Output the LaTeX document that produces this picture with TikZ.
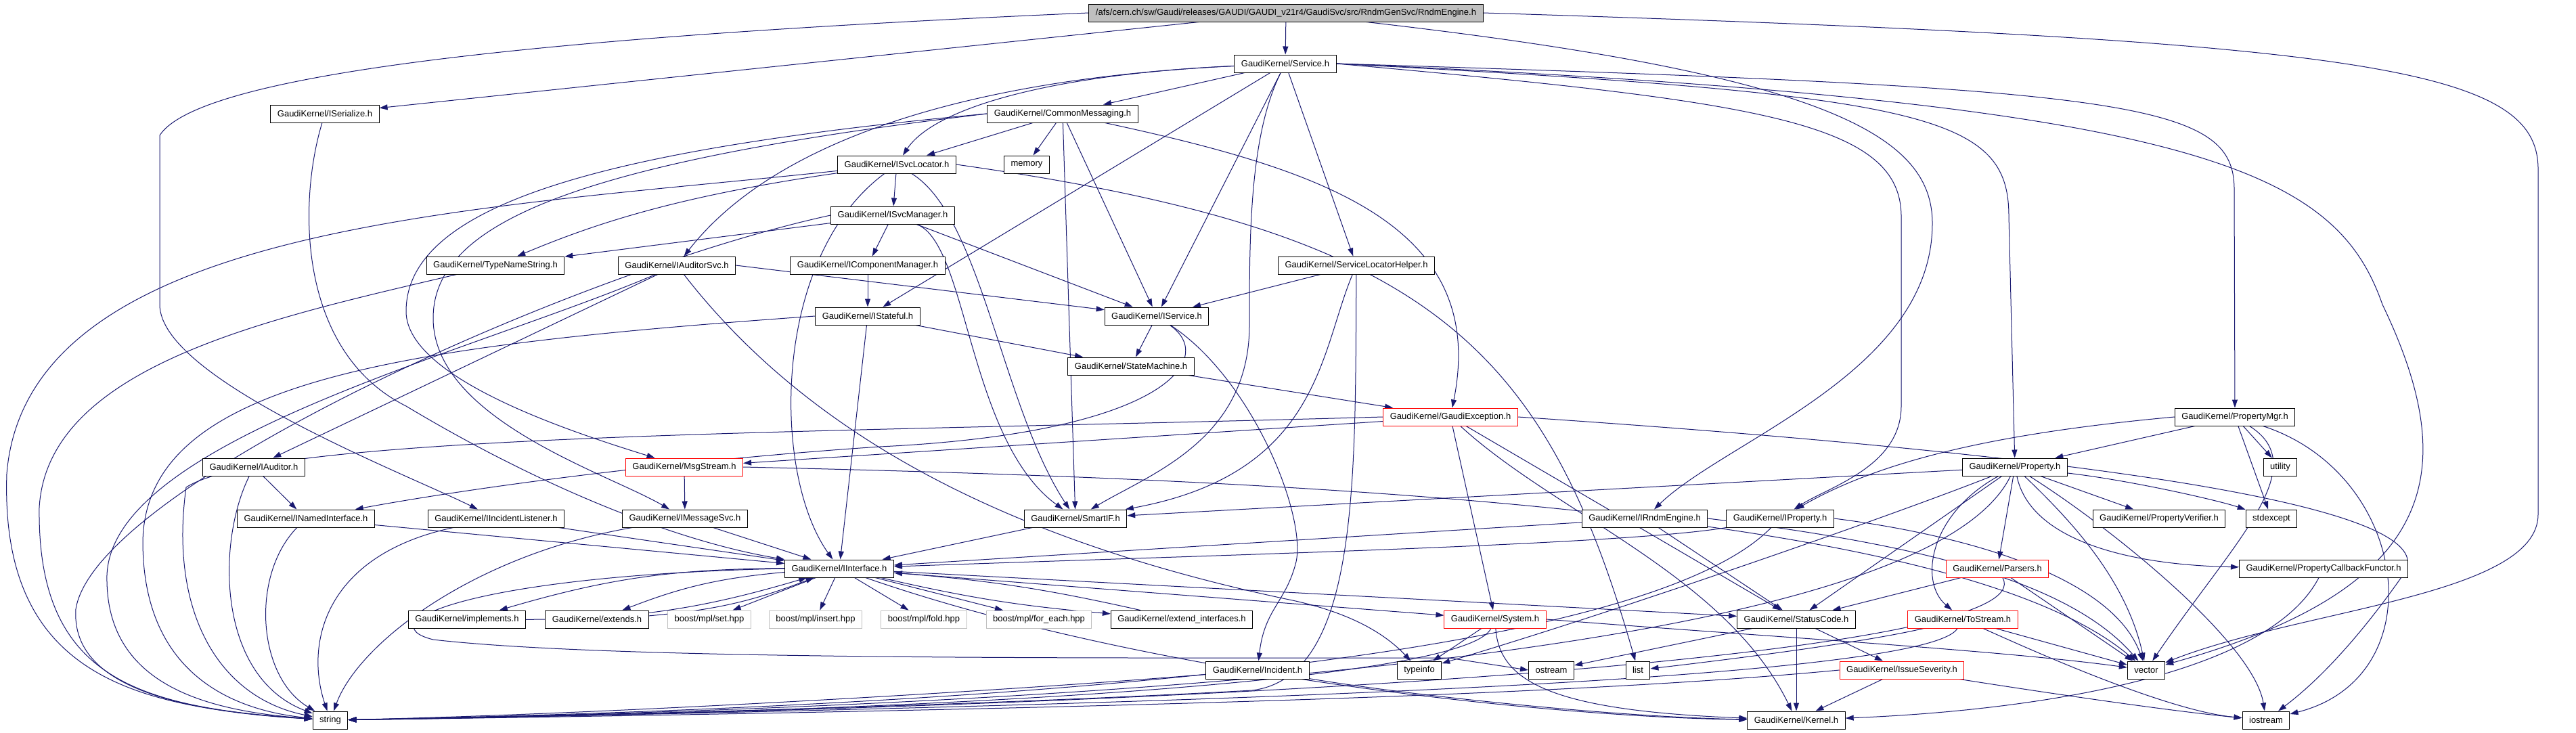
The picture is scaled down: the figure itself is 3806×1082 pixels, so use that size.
\documentclass[tikz,border=0pt]{standalone}
\usepackage{fontspec}
\usetikzlibrary{arrows.meta,backgrounds}
\newfontfamily\graphfont{Liberation Sans}
\definecolor{edgeblue}{HTML}{191970}
\definecolor{boxgrey}{HTML}{BFBFBF}
\tikzset{
  file/.style={draw=black, line width=0.5pt, fill=white, inner xsep=5pt, inner ysep=0pt,
    minimum height=13pt, font=\graphfont\fontsize{6.5pt}{7.5pt}\selectfont},
  redfile/.style={file, draw=red},
  sysfile/.style={file, draw=boxgrey},
  rootfile/.style={file, fill=boxgrey},
  incl/.style={draw=edgeblue, line width=0.5pt, -{Triangle[length=6pt,width=4pt]}}
}
\begin{document}
\begin{tikzpicture}[x=0.5pt, y=-0.5pt]
    \useasboundingbox (0,0) rectangle (3806,1082);

    % Files, row by row
    \node[rootfile] (root) at (1900,19) {/afs/cern.ch/sw/Gaudi/releases/GAUDI/GAUDI\_v21r4/GaudiSvc/src/RndmGenSvc/RndmEngine.h};
    \node[file] (service) at (1899,94) {GaudiKernel/Service.h};
    \node[file] (iserialize) at (480,168) {GaudiKernel/ISerialize.h};
    \node[file] (commonmsg) at (1570,168) {GaudiKernel/CommonMessaging.h};
    \node[file] (isvclocator) at (1325,243) {GaudiKernel/ISvcLocator.h};
    \node[file] (memory) at (1517,243) {memory};
    \node[file] (isvcmanager) at (1319,318) {GaudiKernel/ISvcManager.h};
    \node[file] (typenamestring) at (732,392) {GaudiKernel/TypeNameString.h};
    \node[file] (iauditorsvc) at (1000,392) {GaudiKernel/IAuditorSvc.h};
    \node[file] (icompmanager) at (1282,392) {GaudiKernel/IComponentManager.h};
    \node[file] (servicelochelper) at (2004,392) {GaudiKernel/ServiceLocatorHelper.h};
    \node[file] (istateful) at (1282,467) {GaudiKernel/IStateful.h};
    \node[file] (iservice) at (1709,467) {GaudiKernel/IService.h};
    \node[file] (statemachine) at (1671,541) {GaudiKernel/StateMachine.h};
    \node[redfile] (gaudiexception) at (2143,616) {GaudiKernel/GaudiException.h};
    \node[file] (propertymgr) at (3302,616) {GaudiKernel/PropertyMgr.h};
    \node[file] (iauditor) at (375,690) {GaudiKernel/IAuditor.h};
    \node[redfile] (msgstream) at (1011,690) {GaudiKernel/MsgStream.h};
    \node[file] (property) at (2977,690) {GaudiKernel/Property.h};
    \node[file] (utility) at (3369,690) {utility};
    \node[file] (inamedinterface) at (452,766) {GaudiKernel/INamedInterface.h};
    \node[file] (iincidentlistener) at (733,766) {GaudiKernel/IIncidentListener.h};
    \node[file] (imessagesvc) at (1012,766) {GaudiKernel/IMessageSvc.h};
    \node[file] (smartif) at (1589,766) {GaudiKernel/SmartIF.h};
    \node[file] (irndmengine) at (2430,766) {GaudiKernel/IRndmEngine.h};
    \node[file] (iproperty) at (2630,766) {GaudiKernel/IProperty.h};
    \node[file] (propertyverifier) at (3190,766) {GaudiKernel/PropertyVerifier.h};
    \node[file] (stdexcept) at (3356,766) {stdexcept};
    \node[file] (iinterface) at (1240,840) {GaudiKernel/IInterface.h};
    \node[redfile] (parsers) at (2951,840) {GaudiKernel/Parsers.h};
    \node[file] (propcallback) at (3433,840) {GaudiKernel/PropertyCallbackFunctor.h};
    \node[file] (implements) at (690,915) {GaudiKernel/implements.h};
    \node[file] (extends) at (882,915) {GaudiKernel/extends.h};
    \node[sysfile] (mplset) at (1048,915) {boost/mpl/set.hpp};
    \node[sysfile] (mplinsert) at (1205,915) {boost/mpl/insert.hpp};
    \node[sysfile] (mplfold) at (1365,915) {boost/mpl/fold.hpp};
    \node[sysfile] (mplforeach) at (1535,915) {boost/mpl/for\_each.hpp};
    \node[file] (extendif) at (1746,915) {GaudiKernel/extend\_interfaces.h};
    \node[redfile] (system) at (2209,915) {GaudiKernel/System.h};
    \node[file] (statuscode) at (2654,915) {GaudiKernel/StatusCode.h};
    \node[redfile] (tostream) at (2900,915) {GaudiKernel/ToStream.h};
    \node[file] (incident) at (1858,990) {GaudiKernel/Incident.h};
    \node[file] (typeinfo) at (2097,990) {typeinfo};
    \node[file] (ostream) at (2292,990) {ostream};
    \node[file] (list) at (2420,990) {list};
    \node[redfile] (issueseverity) at (2810,990) {GaudiKernel/IssueSeverity.h};
    \node[file] (vector) at (3171,990) {vector};
    \node[file] (string) at (488,1064) {string};
    \node[file] (kernel) at (2654,1064) {GaudiKernel/Kernel.h};
    \node[file] (iostream) at (3348,1064) {iostream};

    \begin{pgfonlayer}{background}
    \fill[white] (0,0) rectangle (3806,1082);

    % RndmEngine.h
    \draw[incl] (root) -- (service);
    \draw[incl] (root) -- (iserialize);
    \draw[incl] (root.west) .. controls (900,50) and (300,100) .. (236,200) -- (236,450) .. controls (236,560) and (600,700) .. (iincidentlistener);
    \draw[incl] (root) .. controls (2700,110) and (2855,200) .. (2855,330) .. controls (2855,550) and (2550,650) .. (irndmengine);
    \draw[incl] (root.east) .. controls (3500,60) and (3750,100) .. (3750,250) -- (3750,760) .. controls (3750,880) and (3400,900) .. (vector);

    % Service.h
    \draw[incl] (service) -- (commonmsg);
    \draw[incl] (service) .. controls (1550,110) and (1380,160) .. (isvclocator);
    \draw[incl] (service) .. controls (1450,115) and (1150,200) .. (iauditorsvc);
    \draw[incl] (service) -- (istateful);
    \draw[incl] (service) -- (iservice);
    \draw[incl] (service) -- (servicelochelper);
    \draw[incl] (service) .. controls (1846,200) and (1846,350) .. (1846,480) .. controls (1846,650) and (1700,700) .. (smartif);
    \draw[incl] (service.east) .. controls (2600,150) and (2809,180) .. (2809,320) -- (2809,600) .. controls (2809,690) and (2700,720) .. (iproperty);
    \draw[incl] (service.east) .. controls (3150,130) and (3301,150) .. (3301,280) -- (propertymgr);
    \draw[incl] (service.east) .. controls (2850,140) and (2968,170) .. (2968,320) -- (property);
    \draw[incl] (service.east) .. controls (3250,150) and (3450,250) .. (3520,450) .. controls (3640,700) and (3600,870) .. (vector);

    % CommonMessaging.h
    \draw[incl] (commonmsg) -- (isvclocator);
    \draw[incl] (commonmsg) -- (memory);
    \draw[incl] (commonmsg) -- (smartif);
    \draw[incl] (commonmsg) -- (iservice);
    \draw[incl] (commonmsg) .. controls (1950,250) and (2200,330) .. (gaudiexception);
    \draw[incl] (commonmsg.west) .. controls (900,220) and (600,300) .. (600,460) .. controls (600,560) and (850,640) .. (msgstream);
    \draw[incl] (commonmsg.west) .. controls (850,240) and (640,330) .. (640,470) .. controls (640,620) and (900,700) .. (imessagesvc);

    % ISvcLocator.h
    \draw[incl] (isvclocator) -- (isvcmanager);
    \draw[incl] (isvclocator) .. controls (1000,290) and (880,330) .. (typenamestring);
    \draw[incl] (isvclocator) .. controls (700,310) and (40,330) .. (10,700) .. controls (0,1000) and (200,1045) .. (string);
    \draw[incl] (isvclocator) .. controls (1140,380) and (1140,700) .. (iinterface);
    \draw[incl] (isvclocator) .. controls (1450,320) and (1480,600) .. (smartif);
    \draw[incl] (isvclocator.east) .. controls (2100,340) and (2280,500) .. (list);

    % ISvcManager.h
    \draw[incl] (isvcmanager) -- (icompmanager);
    \draw[incl] (isvcmanager) -- (typenamestring);
    \draw[incl] (isvcmanager.west) .. controls (850,400) and (140,720) .. (112,900) .. controls (105,1010) and (250,1050) .. (string);
    \draw[incl] (isvcmanager) -- (iservice);
    \draw[incl] (isvcmanager) .. controls (1430,360) and (1430,650) .. (smartif);

    % TypeNameString.h, IAuditorSvc.h, IComponentManager.h
    \draw[incl] (typenamestring) .. controls (400,470) and (70,540) .. (58,750) .. controls (55,1000) and (200,1045) .. (string);
    \draw[incl] (iauditorsvc.east) -- (iservice);
    \draw[incl] (iauditorsvc) -- (iauditor);
    \draw[incl] (iauditorsvc) .. controls (700,520) and (165,650) .. (158,850) .. controls (155,1010) and (300,1050) .. (string);
    \draw[incl] (iauditorsvc) .. controls (1200,650) and (1500,800) .. (1900,885) .. controls (2000,905) and (2050,940) .. (typeinfo);
    \draw[incl] (icompmanager) -- (istateful);

    % ServiceLocatorHelper.h
    \draw[incl] (servicelochelper) -- (iservice);
    \draw[incl] (servicelochelper) .. controls (1950,520) and (1950,700) .. (smartif);
    \draw[incl] (servicelochelper) .. controls (2002,700) and (2010,1000) .. (1850,1020) .. controls (1400,1045) and (800,1058) .. (string);

    % IStateful.h, IService.h, StateMachine.h
    \draw[incl] (istateful) -- (statemachine);
    \draw[incl] (istateful) -- (iinterface);
    \draw[incl] (istateful.west) .. controls (600,510) and (215,560) .. (211,800) .. controls (211,1000) and (350,1050) .. (string);
    \draw[incl] (iservice) -- (statemachine);
    \draw[incl] (iservice) .. controls (1800,530) and (1720,640) .. (1300,660) .. controls (1000,680) and (700,720) .. (inamedinterface);
    \draw[incl] (iservice) .. controls (1850,560) and (1930,760) .. (1915,830) .. controls (1900,890) and (1868,900) .. (incident);
    \draw[incl] (statemachine) -- (gaudiexception);

    % GaudiException.h
    \draw[incl] (gaudiexception) -- (msgstream);
    \draw[incl] (gaudiexception.west) .. controls (1200,640) and (400,640) .. (275,720) .. controls (250,900) and (320,1030) .. (string);
    \draw[incl] (gaudiexception) -- (system);
    \draw[incl] (gaudiexception) -- (statuscode);
    \draw[incl] (gaudiexception) .. controls (2300,760) and (2550,850) .. (kernel);
    \draw[incl] (gaudiexception.east) .. controls (3200,680) and (3620,760) .. (3550,850) .. controls (3480,950) and (3420,1010) .. (iostream);

    % PropertyMgr.h
    \draw[incl] (propertymgr) -- (utility);
    \draw[incl] (propertymgr) -- (stdexcept);
    \draw[incl] (propertymgr) -- (property);
    \draw[incl] (propertymgr.west) .. controls (2950,640) and (2780,680) .. (iproperty);
    \draw[incl] (propertymgr) .. controls (3560,700) and (3600,1000) .. (iostream);
    \draw[incl] (propertymgr) .. controls (3420,690) and (3300,800) .. (vector);

    % IAuditor.h, MsgStream.h
    \draw[incl] (iauditor) -- (inamedinterface);
    \draw[incl] (iauditor) .. controls (320,800) and (320,1000) .. (string);
    \draw[incl] (msgstream) -- (imessagesvc);
    \draw[incl] (msgstream.east) .. controls (2000,710) and (2900,760) .. (vector);

    % interfaces
    \draw[incl] (iserialize) .. controls (440,300) and (440,520) .. (600,600) .. controls (800,720) and (1000,800) .. (iinterface);
    \draw[incl] (inamedinterface) -- (iinterface);
    \draw[incl] (inamedinterface) .. controls (370,850) and (380,1000) .. (string);
    \draw[incl] (iincidentlistener) -- (iinterface);
    \draw[incl] (iincidentlistener) .. controls (480,820) and (450,950) .. (string);
    \draw[incl] (imessagesvc) -- (iinterface);
    \draw[incl] (imessagesvc) .. controls (700,820) and (530,950) .. (string);
    \draw[incl] (smartif) -- (iinterface);
    \draw[incl] (irndmengine) -- (iinterface);
    \draw[incl] (irndmengine) -- (statuscode);
    \draw[incl] (irndmengine.east) .. controls (2800,800) and (3050,850) .. (vector);
    \draw[incl] (iproperty) .. controls (2400,805) and (1800,820) .. (iinterface);
    \draw[incl] (iproperty.east) .. controls (2900,790) and (3120,850) .. (vector);
    \draw[incl] (iproperty) .. controls (2450,950) and (1700,1040) .. (string);

    % Property.h
    \draw[incl] (property) -- (smartif);
    \draw[incl] (property) -- (propertyverifier);
    \draw[incl] (property) .. controls (3150,710) and (3280,740) .. (stdexcept);
    \draw[incl] (property) -- (parsers);
    \draw[incl] (property) .. controls (2850,760) and (2835,860) .. (tostream);
    \draw[incl] (property) .. controls (3000,800) and (3150,835) .. (propcallback);
    \draw[incl] (property) .. controls (3050,760) and (3140,850) .. (vector);
    \draw[incl] (property) .. controls (3120,780) and (3330,950) .. (iostream);
    \draw[incl] (property) -- (statuscode);
    \draw[incl] (property) .. controls (2800,760) and (2400,900) .. (typeinfo);
    \draw[incl] (property) .. controls (2850,950) and (1800,1040) .. (string);

    % Parsers.h, PropertyCallbackFunctor.h, ToStream.h
    \draw[incl] (parsers) -- (vector);
    \draw[incl] (parsers) -- (statuscode);
    \draw[incl] (parsers) .. controls (3020,960) and (2000,1040) .. (string);
    \draw[incl] (propcallback) .. controls (3350,1000) and (3000,1050) .. (kernel);
    \draw[incl] (tostream) -- (vector);
    \draw[incl] (tostream) .. controls (3000,960) and (3200,1050) .. (iostream);
    \draw[incl] (tostream) .. controls (2750,950) and (2550,975) .. (list);
    \draw[incl] (tostream) .. controls (2850,1000) and (1900,1040) .. (string);

    % IInterface.h
    \draw[incl] (iinterface) to[bend right=8] (implements);
    \draw[incl] (implements) to[bend right=8] (iinterface);
    \draw[incl] (iinterface) to[bend right=8] (extends);
    \draw[incl] (extends) to[bend right=8] (iinterface);
    \draw[incl] (iinterface) to[bend right=4] (extendif);
    \draw[incl] (extendif) to[bend right=4] (iinterface);
    \draw[incl] (iinterface) -- (mplset);
    \draw[incl] (iinterface) -- (mplinsert);
    \draw[incl] (iinterface) -- (mplfold);
    \draw[incl] (iinterface) -- (mplforeach);
    \draw[incl] (iinterface) -- (system);
    \draw[incl] (iinterface) -- (statuscode);
    \draw[incl] (iinterface.west) .. controls (700,850) and (540,920) .. (640,945) .. controls (900,975) and (1600,972) .. (2050,972) -- (2140,972) -- (ostream.west);
    \draw[incl] (iinterface) .. controls (1700,1000) and (2300,1060) .. (kernel);

    % System.h, StatusCode.h, IssueSeverity.h, Incident.h
    \draw[incl] (system) -- (typeinfo);
    \draw[incl] (system) .. controls (2215,1010) and (2300,1050) .. (kernel);
    \draw[incl] (system.east) .. controls (2600,940) and (2950,960) .. (vector);
    \draw[incl] (system) .. controls (2170,1000) and (1500,1050) .. (string);
    \draw[incl] (statuscode) -- (issueseverity);
    \draw[incl] (statuscode) -- (kernel);
    \draw[incl] (statuscode) -- (ostream);
    \draw[incl] (issueseverity) -- (kernel);
    \draw[incl] (issueseverity) .. controls (3000,1020) and (3200,1050) .. (iostream);
    \draw[incl] (issueseverity.west) .. controls (2300,1030) and (1500,1050) .. (string);
    \draw[incl] (incident) .. controls (2100,1030) and (2400,1060) .. (kernel);
    \draw[incl] (incident) .. controls (1500,1020) and (900,1055) .. (string);
    \end{pgfonlayer}
\end{tikzpicture}
\end{document}
